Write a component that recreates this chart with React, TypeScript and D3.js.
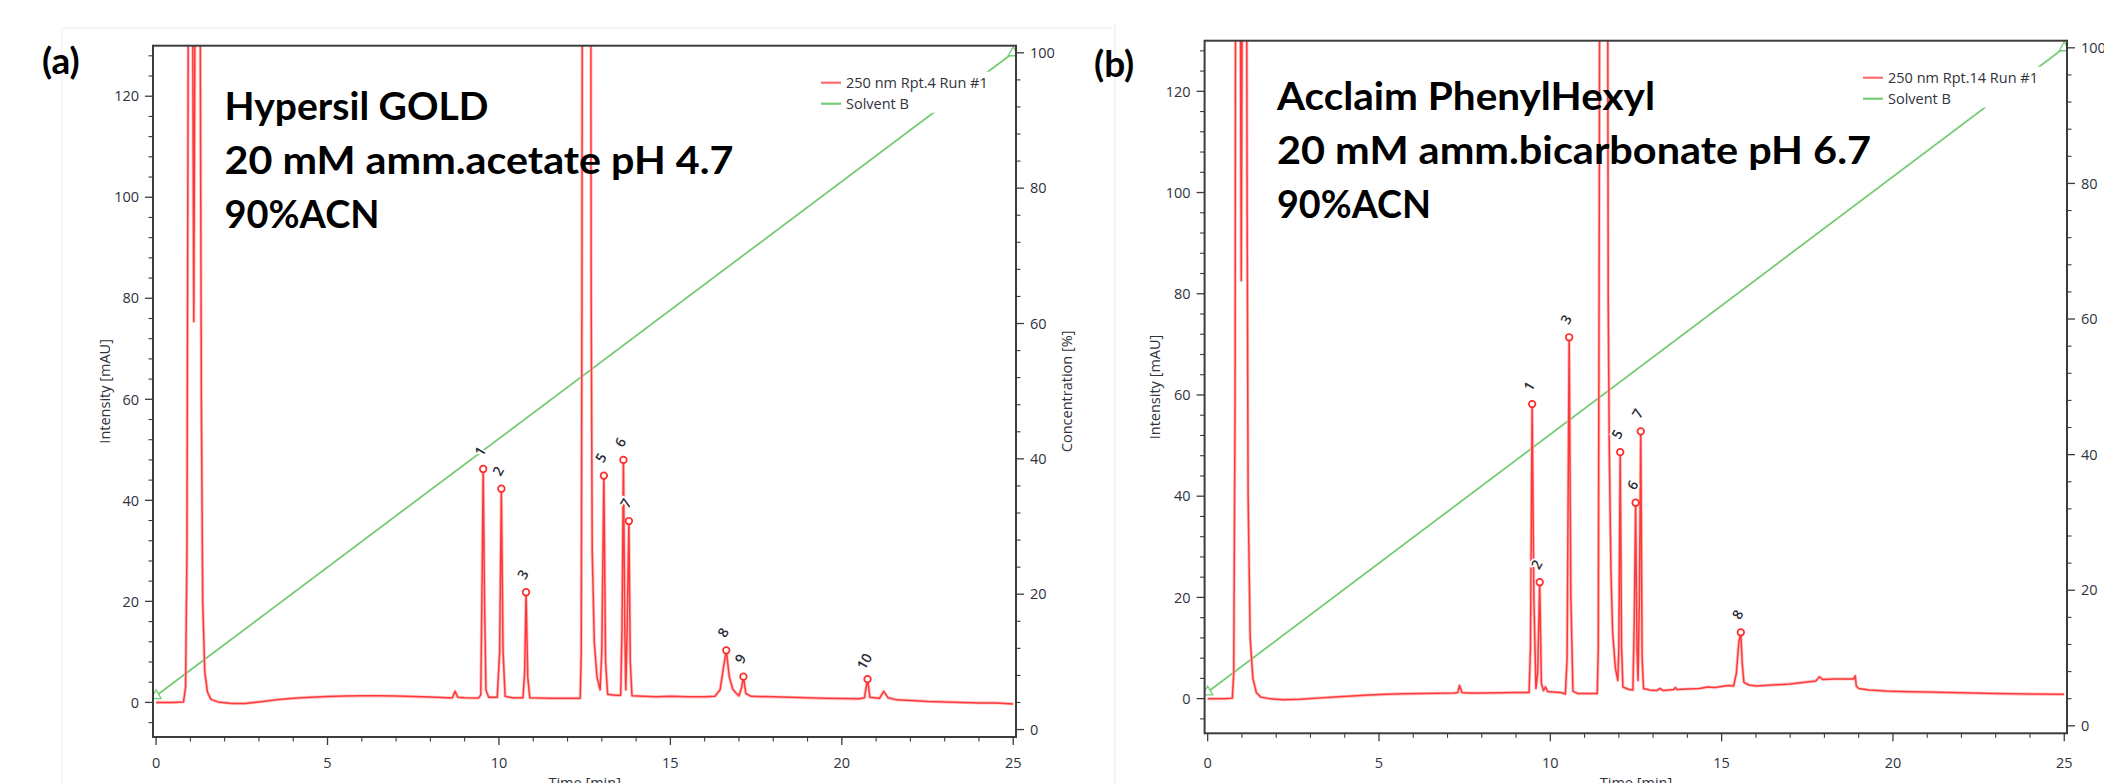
import React from "react";
import * as d3 from "d3";

// ---------------- data ----------------
const timeTicks = [0, 5, 10, 15, 20, 25];
const intensityTicks = [0, 20, 40, 60, 80, 100, 120];
const concTicks = [0, 20, 40, 60, 80, 100];

const titleA = ["Hypersil GOLD", "20 mM amm.acetate pH 4.7", "90%ACN"];
const titleB = ["Acclaim PhenylHexyl", "20 mM amm.bicarbonate pH 6.7", "90%ACN"];
const legendA = ["250 nm Rpt.4 Run #1", "Solvent B"];
const legendB = ["250 nm Rpt.14 Run #1", "Solvent B"];

const gradientTime = [0, 25];
const gradientConc = [5, 100];

// chromatogram (a): [time min, intensity mAU]
const traceA: [number, number][] = [
  [0, 0.0], [0.5, 0.0], [0.8, 0.1], [0.86, 3], [0.9, 30], [0.94, 140], [0.97, 260], [1.02, 220],
  [1.07, 130], [1.1, 75.4], [1.13, 130], [1.18, 240], [1.24, 220], [1.29, 130], [1.32, 60],
  [1.36, 20], [1.42, 6], [1.5, 2], [1.6, 0.6], [1.8, 0.1], [2.2, -0.2], [2.6, -0.2], [3.0, 0.1],
  [3.5, 0.5], [4.0, 0.8], [4.5, 1.0], [5.0, 1.15], [5.5, 1.25], [6.0, 1.3], [6.5, 1.3], [7.0, 1.25],
  [7.5, 1.15], [8.0, 1.05], [8.5, 0.9], [8.64, 0.9], [8.72, 2.2], [8.8, 1.0], [9.0, 0.9], [9.4, 0.85],
  [9.47, 1.5], [9.51, 25], [9.54, 46.2], [9.58, 20], [9.62, 2.5], [9.7, 1.0], [9.95, 1.0], [10.02, 10],
  [10.07, 42.3], [10.12, 10], [10.18, 1.2], [10.4, 0.9], [10.7, 0.9], [10.75, 6], [10.79, 21.8],
  [10.84, 5], [10.9, 0.9], [11.5, 0.8], [12.0, 0.8], [12.37, 0.8], [12.4, 10], [12.42, 80],
  [12.45, 250], [12.55, 300], [12.66, 250], [12.69, 80], [12.72, 30], [12.78, 12], [12.86, 5],
  [12.95, 2.5], [13.0, 10], [13.06, 44.9], [13.11, 8], [13.17, 1.6], [13.4, 1.4], [13.55, 1.4],
  [13.59, 15], [13.63, 48.0], [13.67, 15], [13.7, 2.5], [13.74, 15], [13.79, 35.9], [13.83, 8],
  [13.88, 1.3], [14.2, 1.2], [14.6, 1.1], [15.0, 1.2], [15.5, 1.1], [16.0, 1.1], [16.3, 1.2],
  [16.45, 2.5], [16.55, 7], [16.63, 10.3], [16.72, 5], [16.82, 2.6], [16.92, 1.8], [17.0, 1.3],
  [17.08, 3], [17.13, 5.1], [17.2, 1.8], [17.35, 1.2], [18.0, 1.1], [18.5, 1.0], [19.0, 0.9],
  [19.5, 0.8], [20.0, 0.75], [20.5, 0.7], [20.66, 0.9], [20.75, 4.6], [20.82, 1.0], [21.1, 0.8],
  [21.22, 2.2], [21.35, 0.9], [21.6, 0.5], [22.0, 0.4], [22.5, 0.2], [23.0, 0.1], [23.5, 0.0],
  [24.0, -0.1], [24.5, -0.1], [25.0, -0.3],
];

// chromatogram (b)
const traceB: [number, number][] = [
  [0, 0.0], [0.5, 0.0], [0.72, 0.1], [0.76, 5], [0.8, 60], [0.83, 250], [0.9, 300], [0.95, 150],
  [0.98, 82.6], [1.01, 150], [1.06, 300], [1.12, 200], [1.15, 100], [1.18, 40], [1.24, 12],
  [1.32, 4], [1.42, 1.2], [1.55, 0.3], [1.8, 0.0], [2.2, -0.2], [2.7, -0.1], [3.2, 0.1], [3.7, 0.3],
  [4.2, 0.5], [4.7, 0.7], [5.2, 0.85], [5.7, 0.95], [6.2, 1.0], [6.7, 1.05], [7.2, 1.1], [7.3, 1.2],
  [7.35, 2.6], [7.42, 1.2], [7.6, 1.1], [8.0, 1.1], [8.5, 1.15], [9.0, 1.2], [9.38, 1.2], [9.42, 10],
  [9.47, 58.2], [9.52, 20], [9.58, 2], [9.63, 5], [9.69, 23.0], [9.74, 3], [9.8, 1.6], [9.86, 2.3],
  [9.92, 1.4], [10.1, 1.3], [10.3, 1.2], [10.44, 0.9], [10.49, 8], [10.55, 71.4], [10.6, 20],
  [10.66, 1.5], [10.8, 1.0], [11.1, 1.0], [11.37, 1.0], [11.4, 10], [11.43, 100], [11.46, 250],
  [11.55, 300], [11.66, 200], [11.69, 79], [11.72, 50], [11.77, 25], [11.82, 13], [11.9, 6],
  [11.97, 3.6], [12.0, 10], [12.04, 48.7], [12.08, 10], [12.12, 2.3], [12.3, 1.8], [12.41, 1.7],
  [12.45, 15], [12.49, 38.7], [12.53, 10], [12.56, 3.6], [12.6, 20], [12.64, 52.8], [12.68, 8],
  [12.72, 2.0], [12.9, 1.7], [13.1, 1.6], [13.2, 2.0], [13.3, 1.6], [13.6, 1.8], [13.65, 2.2],
  [13.7, 1.8], [14.0, 1.9], [14.35, 2.0], [14.6, 2.3], [14.8, 2.2], [15.0, 2.4], [15.2, 2.6],
  [15.35, 2.5], [15.43, 5], [15.5, 11], [15.56, 13.1], [15.6, 7], [15.65, 3.2], [15.8, 2.7],
  [16.0, 2.5], [16.5, 2.7], [17.0, 2.9], [17.5, 3.3], [17.75, 3.5], [17.85, 4.3], [17.95, 3.8],
  [18.3, 3.9], [18.7, 3.9], [18.85, 3.9], [18.9, 4.5], [18.93, 2.5], [19.0, 2.0], [19.3, 1.7],
  [19.8, 1.5], [20.2, 1.4], [21.0, 1.3], [22.0, 1.15], [23.0, 1.0], [24.0, 0.9], [25.0, 0.85],
];

const peakIdsA = ["1", "2", "3", "5", "6", "7", "8", "9", "10"];
const peakTimesA = [9.54, 10.07, 10.79, 13.06, 13.63, 13.79, 16.63, 17.13, 20.75];
const peakHeightsA = [46.2, 42.3, 21.8, 44.9, 48.0, 35.9, 10.3, 5.1, 4.6];

const peakIdsB = ["1", "2", "3", "5", "6", "7", "8"];
const peakTimesB = [9.47, 9.69, 10.55, 12.04, 12.49, 12.64, 15.56];
const peakHeightsB = [58.2, 23.0, 71.4, 48.7, 38.7, 52.8, 13.1];

// ---------------- style / layout ----------------
const FONT = "'Open Sans', 'Noto Sans', sans-serif";
const TITLE_FONT = "Lato, 'Open Sans', sans-serif";
const RED = "#ff2a2a";
const RED_HALO = "#ffb4b4";
const GREEN = "#74cc74";
const AXIS = "#3c3c3c";
const TEXT = "#30323c";

type Layout = {
  left: number; right: number; top: number; bottom: number;
  titleX: number; titleBaselines: number[]; titleWidths: number[];
  tag: string; tagX: number; tagY: number;
  legendX: number; legendBoxW: number;
  yTitleX: number; cTitleX: number; clipId: string;
};

const layoutA: Layout = {
  left: 153, right: 1016, top: 45.7, bottom: 737,
  titleX: 224.5, titleBaselines: [120, 173.5, 227.5], titleWidths: [264, 509, 155],
  tag: "(a)", tagX: 42, tagY: 74,
  legendX: 821, legendBoxW: 176,
  yTitleX: 104, cTitleX: 1066, clipId: "clipA",
};
const layoutB: Layout = {
  left: 1204.6, right: 2067, top: 40.7, bottom: 733.3,
  titleX: 1277, titleBaselines: [110, 163.5, 218], titleWidths: [378, 594, 154],
  tag: "(b)", tagX: 1094, tagY: 77,
  legendX: 1863, legendBoxW: 186,
  yTitleX: 1154, cTitleX: 2118, clipId: "clipB",
};

function Panel(props: {
  L: Layout; trace: [number, number][]; ids: string[]; times: number[]; heights: number[];
  title: string[]; legend: string[];
}) {
  const { L, trace, ids, times, heights, title, legend } = props;
  const x = d3.scaleLinear().domain([-0.09, 25.08]).range([L.left, L.right]);
  const y = d3.scaleLinear().domain([-6.85, 130]).range([L.bottom, L.top]);
  const yc = d3.scaleLinear().domain([-1.1, 101.05]).range([L.bottom, L.top]);
  const line = d3.line<[number, number]>().x((d) => x(d[0])).y((d) => y(d[1]));
  const gpts: [number, number][] = gradientTime.map((t, i) => [t, gradientConc[i]]);
  const gline = d3.line<[number, number]>().x((d) => x(d[0])).y((d) => yc(d[1]));
  const tri = d3.symbol().type(d3.symbolTriangle).size(45)();
  const minorX = d3.range(0, 26, 1).filter((v) => v % 5 !== 0);
  const minorY = d3.range(-4, 130, 4).filter((v) => v % 20 !== 0);
  const minorC = d3.range(4, 100, 4).filter((v) => v % 20 !== 0);
  const midY = (L.top + L.bottom) / 2;
  const midX = (x(0) + x(25)) / 2;
  const lt = L.top;
  const tracePath = line(trace) || "";

  return (
    <g>
      <defs>
        <clipPath id={L.clipId}>
          <rect x={L.left} y={L.top} width={L.right - L.left} height={L.bottom - L.top} />
        </clipPath>
      </defs>

      {/* traces */}
      <g clipPath={`url(#${L.clipId})`}>
        <path d={gline(gpts) || ""} fill="none" stroke={GREEN} strokeWidth={1.8} />
        {gpts.map((p, i) => (
          <path key={i} d={tri || ""} transform={`translate(${x(p[0])},${yc(p[1])})`}
            fill="#fff" stroke={GREEN} strokeWidth={1.3} />
        ))}
        <path d={tracePath} fill="none" stroke={RED_HALO} strokeWidth={3.2}
          strokeLinejoin="round" opacity={0.8} />
        <path d={tracePath} fill="none" stroke={RED} strokeWidth={1.5}
          strokeLinejoin="round" opacity={0.9} />
        {ids.map((id, i) => (
          <circle key={id} cx={x(times[i])} cy={y(heights[i])} r={3.3}
            fill="#fff" stroke={RED} strokeWidth={1.7} />
        ))}
      </g>

      {/* peak labels */}
      {ids.map((id, i) => (
        <text key={"l" + id}
          transform={`translate(${x(times[i]) - 3.5},${y(heights[i]) - 18}) rotate(-60)`}
          textAnchor="middle" dominantBaseline="central" fontFamily={FONT} fontSize={14}
          fontWeight={600} fill="#2a2c36" stroke="#fff" strokeWidth={3.5} paintOrder="stroke">{id}</text>
      ))}

      {/* legend */}
      <rect x={L.legendX - 8} y={lt + 26} width={L.legendBoxW + 8} height={41} fill="#fff" />
      {legend.map((s, i) => (
        <g key={s}>
          <line x1={L.legendX} x2={L.legendX + 20} y1={lt + 37 + i * 21} y2={lt + 37 + i * 21}
            stroke={i === 0 ? "#ff6b6b" : GREEN} strokeWidth={2.2} />
          <text x={L.legendX + 25} y={lt + 37 + i * 21} dy="0.35em" fontFamily={FONT}
            fontSize={14.5} fill={TEXT}>{s}</text>
        </g>
      ))}

      {/* frame */}
      <rect x={L.left} y={L.top} width={L.right - L.left} height={L.bottom - L.top}
        fill="none" stroke={AXIS} strokeWidth={2} />

      {/* x axis */}
      {timeTicks.map((t) => (
        <g key={"xt" + t}>
          <line x1={x(t)} x2={x(t)} y1={L.bottom} y2={L.bottom + 8} stroke={AXIS} strokeWidth={1.3} />
          <text x={x(t)} y={768} textAnchor="middle" fontFamily={FONT} fontSize={14.5} fill={TEXT}>{t}</text>
        </g>
      ))}
      {minorX.map((t) => (
        <line key={"xm" + t} x1={x(t)} x2={x(t)} y1={L.bottom} y2={L.bottom + 4.5} stroke={AXIS} strokeWidth={1.1} />
      ))}
      <text x={midX} y={788} textAnchor="middle" fontFamily={FONT} fontSize={14.5} fill={TEXT}>Time [min]</text>

      {/* left axis */}
      {intensityTicks.map((v) => (
        <g key={"yt" + v}>
          <line x1={L.left - 8} x2={L.left} y1={y(v)} y2={y(v)} stroke={AXIS} strokeWidth={1.3} />
          <text x={L.left - 14} y={y(v)} dy="0.36em" textAnchor="end" fontFamily={FONT} fontSize={14.5} fill={TEXT}>{v}</text>
        </g>
      ))}
      {minorY.map((v) => (
        <line key={"ym" + v} x1={L.left - 4.5} x2={L.left} y1={y(v)} y2={y(v)} stroke={AXIS} strokeWidth={1.1} />
      ))}
      <text transform={`translate(${L.yTitleX},${midY}) rotate(-90)`} textAnchor="middle"
        dominantBaseline="central" fontFamily={FONT} fontSize={14.5} fill={TEXT}>Intensity [mAU]</text>

      {/* right axis */}
      {concTicks.map((v) => (
        <g key={"ct" + v}>
          <line x1={L.right} x2={L.right + 8} y1={yc(v)} y2={yc(v)} stroke={AXIS} strokeWidth={1.3} />
          <text x={L.right + 14} y={yc(v)} dy="0.36em" fontFamily={FONT} fontSize={14.5} fill={TEXT}>{v}</text>
        </g>
      ))}
      {minorC.map((v) => (
        <line key={"cm" + v} x1={L.right} x2={L.right + 4.5} y1={yc(v)} y2={yc(v)} stroke={AXIS} strokeWidth={1.1} />
      ))}
      <text transform={`translate(${L.cTitleX},${midY}) rotate(-90)`} textAnchor="middle"
        dominantBaseline="central" fontFamily={FONT} fontSize={14.5} fill={TEXT}>Concentration [%]</text>

      {/* title */}
      {title.map((s, i) => (
        <text key={s} x={L.titleX} y={L.titleBaselines[i]} fontFamily={TITLE_FONT} fontWeight={700}
          fontSize={39} fill="#000" textLength={L.titleWidths[i]} lengthAdjust="spacingAndGlyphs">{s}</text>
      ))}
      <text x={L.tagX} y={L.tagY} fontFamily={TITLE_FONT} fontWeight={700} fontSize={37} fill="#000">{L.tag}</text>
    </g>
  );
}

export default function App() {
  return (
    <div>
      <style>{`body{margin:0;background:#fff}`}</style>
      <svg width={2104} height={783} style={{ display: "block" }}>
        <rect width={2104} height={783} fill="#fff" />
        {/* screenshot edges */}
        <line x1={62} x2={1112} y1={28} y2={28} stroke="#ebebeb" strokeWidth={1.2} />
        <line x1={62} x2={62} y1={28} y2={783} stroke="#f0f0f0" strokeWidth={1.2} />
        <line x1={1115} x2={1115} y1={25} y2={783} stroke="#ebebeb" strokeWidth={1.2} />
        <Panel L={layoutA} trace={traceA} ids={peakIdsA} times={peakTimesA} heights={peakHeightsA}
          title={titleA} legend={legendA} />
        <Panel L={layoutB} trace={traceB} ids={peakIdsB} times={peakTimesB} heights={peakHeightsB}
          title={titleB} legend={legendB} />
      </svg>
    </div>
  );
}
